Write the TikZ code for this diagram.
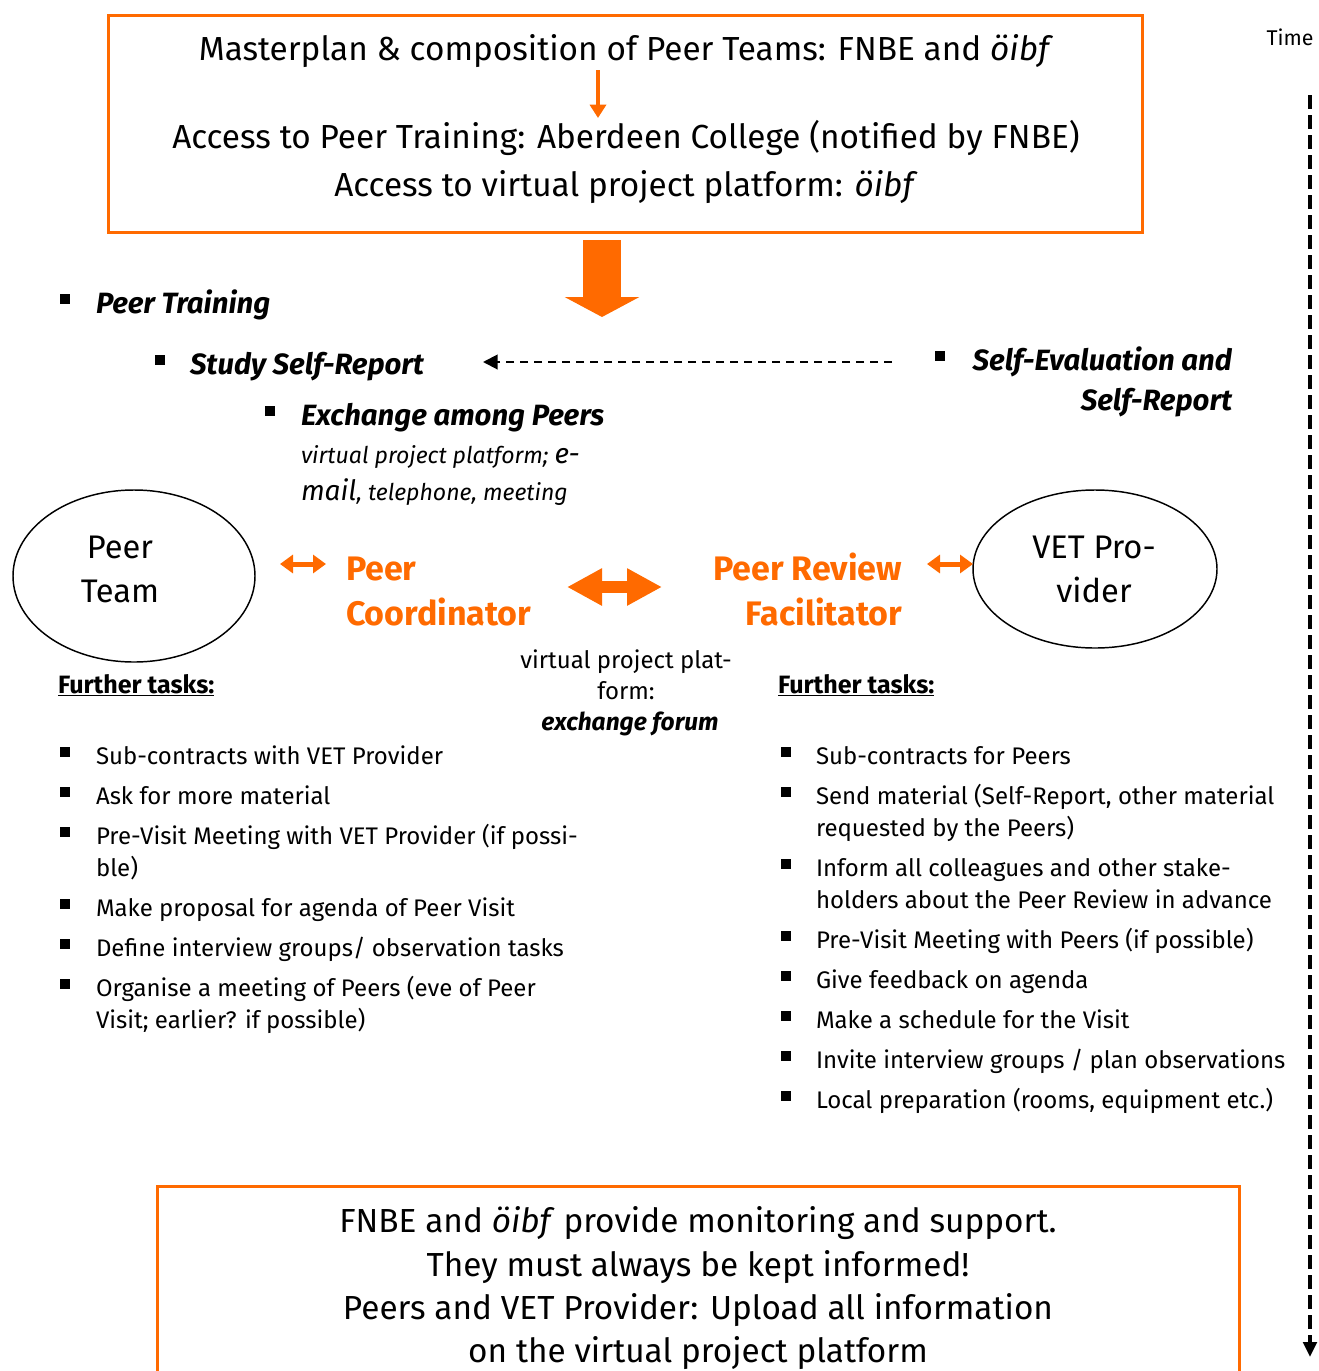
\documentclass[tikz,border=0pt]{standalone}
\usepackage{fontspec}
\setmainfont{Fira Sans}
\usetikzlibrary{arrows.meta,shapes.geometric}
\definecolor{org}{RGB}{255,106,0}
\newcommand{\fsz}[1]{\fontsize{#1}{#1}\selectfont}
\begin{document}
\begin{tikzpicture}[x=0.75pt,y=-0.75pt,
  every node/.style={inner sep=0pt, outer sep=0pt},
  btxt/.style={anchor=base, font=\fsz{25}},
  ltxt/.style={anchor=base west, font=\fsz{18}},
  bul/.style={fill=black, minimum size=7pt},
  hd/.style={anchor=base west, font=\bfseries\itshape\fsz{22}},
  role/.style={text=org, font=\bfseries\fsz{25.5}},
  etxt/.style={anchor=base, font=\fsz{24.5}},
  ftask/.style={anchor=base west, font=\bfseries\fsz{18.8}},
  mtxt/.style={anchor=base, font=\fsz{18}},
  obox/.style={draw=org, line width=2.25pt},
  ell/.style={draw, ellipse, line width=1.1pt},
  sarr/.style={draw=org, line width=3.75pt, {Triangle[length=9.75pt,width=13.5pt]}-{Triangle[length=9.75pt,width=13.5pt]}},
  barr/.style={draw=org, line width=9pt, {Triangle[length=26.25pt,width=26.25pt]}-{Triangle[length=26.25pt,width=26.25pt]}},
  dsh/.style={draw=black, line width=1.5pt, dash pattern=on 6pt off 4.5pt, -{Triangle[length=11pt,width=11pt]}},
  tline/.style={draw=black, line width=2.8pt, dash pattern=on 10.5pt off 4.5pt, -{Triangle[length=11.25pt,width=10pt]}}
]
\useasboundingbox (0,0) rectangle (1319,1371);

% top box
\node[obox, minimum width=775.5pt, minimum height=162.75pt] (topbox) at (625,123.5) {};
\node[btxt] (t1) at (626,60) {Masterplan \& composition of Peer Teams: FNBE and \textit{öibf}};
\node[btxt] (t2) at (626,148) {Access to Peer Training: Aberdeen College (notified by FNBE)};
\node[btxt] (t3) at (626,196) {Access to virtual project platform: \textit{öibf}};
\coordinate (a1) at (598,70);
\coordinate (a2) at (598,118);
\draw[org, line width=3pt, -{Triangle[length=10pt,width=12pt]}] (a1) -- (a2);

% big down arrow
\coordinate (d1) at (602,240);
\coordinate (d2) at (602,317);
\draw[org, line width=28.5pt, -{Triangle[length=15pt,width=55.5pt]}] (d1) -- (d2);

% headings
\node[bul] (b1) at (65,299) {};
\node[hd] (h1) at (96,313) {Peer Training};
\node[bul] (b2) at (160,360) {};
\node[hd] (h2) at (190,374) {Study Self-Report};
\node[bul] (b3) at (270,411) {};
\node[hd] (h3) at (301,425) {Exchange among Peers};
\node[anchor=base west, font=\itshape\fsz{17.3}] (h3a) at (301,463) {virtual project platform; {\fsz{21}e-}};
\node[anchor=base west, font=\itshape\fsz{17.3}] (h3b) at (301,500) {{\fsz{21}mail}, telephone, meeting};
\node[bul] (b4) at (940,356) {};
\node[hd, anchor=base east] (h4) at (1232,370) {Self-Evaluation and};
\node[hd, anchor=base east] (h4b) at (1232,410) {Self-Report};
\coordinate (ds1) at (892,362);
\coordinate (ds2) at (483,362);
\draw[dsh] (ds1) -- (ds2);

% ellipses
\node[ell, minimum width=181.5pt, minimum height=129pt] (pt) at (134,576) {};
\node[etxt] (pt1) at (120,558) {Peer};
\node[etxt] (pt2) at (120,602) {Team};
\node[ell, minimum width=183pt, minimum height=118.5pt] (vet) at (1095,569) {};
\node[etxt] (vt1) at (1094,558) {VET Pro-};
\node[etxt] (vt2) at (1094,602) {vider};

% roles
\node[role, anchor=base west] (pc1) at (346,580) {Peer};
\node[role, anchor=base west] (pc2) at (346,625) {Coordinator};
\node[role, anchor=base east] (pr1) at (902,580) {Peer Review};
\node[role, anchor=base east] (pr2) at (902,625) {Facilitator};

\coordinate (s1) at (280,564);
\coordinate (s2) at (326,564);
\draw[sarr] (s1) -- (s2);
\coordinate (s3) at (927,564);
\coordinate (s4) at (973,564);
\draw[sarr] (s3) -- (s4);
\coordinate (m1) at (567,587);
\coordinate (m2) at (662,587);
\draw[barr] (m1) -- (m2);

\node[mtxt] (v1) at (626,668) {virtual project plat-};
\node[mtxt] (v2) at (626,699) {form:};
\node[mtxt, font=\bfseries\itshape\fsz{18.4}] (v3) at (630,730) {exchange forum};

\node[ftask] (ft1) at (58,693) {\underline{Further tasks:}};
\node[ftask] (ft2) at (778,693) {\underline{Further tasks:}};

% left list
\node[bul] (lb1) at (65,752) {}; \node[ltxt] (l1) at (96,764) {Sub-contracts with VET Provider};
\node[bul] (lb2) at (65,792) {}; \node[ltxt] (l2) at (96,804) {Ask for more material};
\node[bul] (lb3) at (65,832) {}; \node[ltxt] (l3) at (96,844) {Pre-Visit Meeting with VET Provider (if possi-};
\node[ltxt] (l3b) at (96,876) {ble)};
\node[bul] (lb4) at (65,904) {}; \node[ltxt] (l4) at (96,916) {Make proposal for agenda of Peer Visit};
\node[bul] (lb5) at (65,944) {}; \node[ltxt] (l5) at (96,956) {Define interview groups/ observation tasks};
\node[bul] (lb6) at (65,984) {}; \node[ltxt] (l6) at (96,996) {Organise a meeting of Peers (eve of Peer};
\node[ltxt] (l6b) at (96,1028) {Visit; earlier? if possible)};

% right list
\node[bul] (rb1) at (786,752) {}; \node[ltxt] (r1) at (816,764) {Sub-contracts for Peers};
\node[bul] (rb2) at (786,792) {}; \node[ltxt] (r2) at (816,804) {Send material (Self-Report, other material};
\node[ltxt] (r2b) at (816,836) {requested by the Peers)};
\node[bul] (rb3) at (786,864) {}; \node[ltxt] (r3) at (816,876) {Inform all colleagues and other stake-};
\node[ltxt] (r3b) at (816,908) {holders about the Peer Review in advance};
\node[bul] (rb4) at (786,936) {}; \node[ltxt] (r4) at (816,948) {Pre-Visit Meeting with Peers (if possible)};
\node[bul] (rb5) at (786,976) {}; \node[ltxt] (r5) at (816,988) {Give feedback on agenda};
\node[bul] (rb6) at (786,1016) {}; \node[ltxt] (r6) at (816,1028) {Make a schedule for the Visit};
\node[bul] (rb7) at (786,1056) {}; \node[ltxt] (r7) at (816,1068) {Invite interview groups / plan observations};
\node[bul] (rb8) at (786,1096) {}; \node[ltxt] (r8) at (816,1108) {Local preparation (rooms, equipment etc.)};

% bottom box
\node[obox, minimum width=811.5pt, minimum height=200pt] (botbox) at (698,1320) {};
\node[btxt] (u1) at (698,1232) {FNBE and \textit{öibf} provide monitoring and support.};
\node[btxt] (u2) at (698,1276) {They must always be kept informed!};
\node[btxt] (u3) at (698,1319) {Peers and VET Provider: Upload all information};
\node[btxt] (u4) at (698,1362) {on the virtual project platform};

% time
\node[anchor=base, font=\fsz{16}] (time) at (1290,45) {Time};
\coordinate (tl1) at (1310,95);
\coordinate (tl2) at (1310,1357);
\draw[tline] (tl1) -- (tl2);
\end{tikzpicture}
\end{document}
